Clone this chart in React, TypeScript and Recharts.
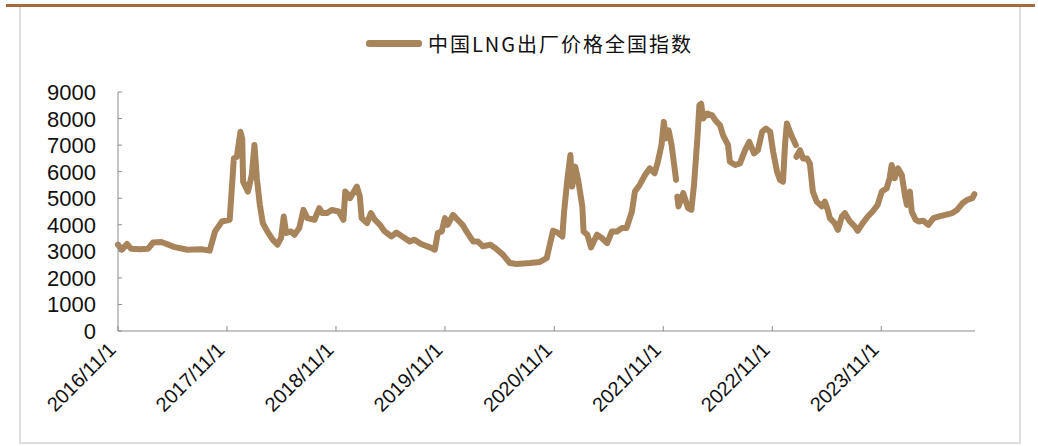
import React from 'react';
import { LineChart, Line, XAxis, YAxis } from 'recharts';

// 中国LNG出厂价格全国指数 (元/吨), values
const dates = [
  '2016/11/01', '2016/11/14', '2016/12/01', '2016/12/15', '2017/01/13', '2017/02/10', '2017/02/26', '2017/03/26',
  '2017/05/10', '2017/06/22', '2017/08/08', '2017/09/04', '2017/09/22', '2017/10/15', '2017/11/10', '2017/11/24',
  '2017/12/04', '2017/12/16', '2017/12/22', '2017/12/25', '2018/01/10', '2018/01/23', '2018/02/01', '2018/02/09',
  '2018/02/19', '2018/03/01', '2018/03/16', '2018/04/03', '2018/04/19', '2018/05/01', '2018/05/10', '2018/05/18',
  '2018/06/03', '2018/06/15', '2018/07/01', '2018/07/15', '2018/07/28', '2018/08/21', '2018/09/06', '2018/09/16',
  '2018/10/02', '2018/10/18', '2018/11/10', '2018/11/26', '2018/12/02', '2018/12/12', '2018/12/18', '2019/01/10',
  '2019/01/20', '2019/01/26', '2019/02/13', '2019/02/26', '2019/03/11', '2019/03/28', '2019/04/13', '2019/05/06',
  '2019/05/22', '2019/06/11', '2019/07/06', '2019/07/22', '2019/08/13', '2019/09/12', '2019/09/28', '2019/10/08',
  '2019/10/21', '2019/11/01', '2019/11/10', '2019/11/28', '2019/12/13', '2019/12/30', '2020/01/12', '2020/02/03',
  '2020/02/19', '2020/03/07', '2020/04/01', '2020/04/17', '2020/05/13', '2020/06/05', '2020/06/28', '2020/08/12',
  '2020/09/14', '2020/10/07', '2020/10/17', '2020/10/28', '2020/11/13', '2020/11/28', '2020/12/04', '2020/12/14',
  '2020/12/25', '2020/12/31', '2021/01/10', '2021/01/20', '2021/02/03', '2021/02/07', '2021/02/20', '2021/03/04',
  '2021/03/24', '2021/04/09', '2021/04/27', '2021/05/13', '2021/05/30', '2021/06/15', '2021/07/01', '2021/07/19',
  '2021/07/29', '2021/08/14', '2021/09/01', '2021/09/17', '2021/10/03', '2021/10/14', '2021/10/26', '2021/11/03',
  '2021/11/09', '2021/11/19', '2021/11/29', '2021/12/14', '2021/12/16', '2021/12/18', '2021/12/22', '2022/01/07',
  '2022/01/23', '2022/02/03', '2022/02/12', '2022/02/24', '2022/03/02', '2022/03/08', '2022/03/14', '2022/03/28',
  '2022/04/14', '2022/04/24', '2022/05/10', '2022/05/20', '2022/06/06', '2022/06/12', '2022/06/30', '2022/07/16',
  '2022/08/02', '2022/08/16', '2022/09/01', '2022/09/14', '2022/09/28', '2022/10/11', '2022/10/25', '2022/11/04',
  '2022/11/17', '2022/11/27', '2022/12/07', '2022/12/14', '2022/12/20', '2022/12/30', '2023/01/09', '2023/01/19',
  '2023/01/20', '2023/01/21', '2023/02/02', '2023/02/12', '2023/02/25', '2023/03/07', '2023/03/17', '2023/03/30',
  '2023/04/16', '2023/04/26', '2023/05/06', '2023/05/13', '2023/05/29', '2023/06/09', '2023/06/22', '2023/07/02',
  '2023/07/19', '2023/08/04', '2023/08/14', '2023/08/31', '2023/09/17', '2023/10/03', '2023/10/20', '2023/11/03',
  '2023/11/19', '2023/11/29', '2023/12/06', '2023/12/16', '2023/12/27', '2024/01/09', '2024/01/19', '2024/01/26',
  '2024/02/05', '2024/02/11', '2024/02/24', '2024/03/05', '2024/03/21', '2024/04/07', '2024/04/24', '2024/05/10',
  '2024/06/03', '2024/06/26', '2024/07/12', '2024/07/30', '2024/08/15', '2024/09/01', '2024/09/08',
];

const lngIndex: (number | null)[] = [
  3250, 3060, 3275, 3100, 3080, 3100, 3330, 3350,
  3160, 3060, 3080, 3025, 3750, 4125, 4190, 6500,
  6560, 7500, 7250, 5625, 5250, 5875, 7000, 5750,
  4750, 4060, 3750, 3440, 3250, 3500, 4310, 3690,
  3750, 3625, 3875, 4560, 4250, 4190, 4625, 4440,
  4440, 4560, 4500, 4190, 5250, 5125, 5000, 5440,
  5060, 4250, 4060, 4440, 4190, 4000, 3750, 3560,
  3710, 3560, 3375, 3440, 3275, 3150, 3060, 3690,
  3750, 4250, 4000, 4375, 4190, 4000, 3750, 3375,
  3375, 3190, 3250, 3125, 2875, 2560, 2525, 2560,
  2600, 2750, 3250, 3775, 3700, 3560, 4500, 5625,
  6625, 5440, 6190, 5690, 4690, 3750, 3625, 3150,
  3625, 3500, 3310, 3750, 3750, 3875, 3875, 4500,
  5250, 5500, 5875, 6125, 5940, 6375, 7000, 7875,
  7250, 7560, 7000, 5690, null, 5060, 4690, 5190,
  4625, 4560, 5500, 7375, 8500, 8560, 8000, 8190,
  8120, 7940, 7750, 7375, 7000, 6375, 6250, 6310,
  6810, 7125, 6690, 6810, 7500, 7625, 7500, 6750,
  6000, 5690, 5625, 7060, 7810, 7500, 7250, 7000,
  null, 6560, 6810, 6500, 6500, 6310, 5250, 4875,
  4690, 4875, 4560, 4250, 4060, 3810, 4310, 4440,
  4125, 3940, 3775, 4060, 4310, 4500, 4750, 5250,
  5375, 5750, 6250, 5750, 6125, 5875, 5125, 4750,
  5250, 4500, 4190, 4125, 4150, 4000, 4250, 4310,
  4375, 4440, 4560, 4810, 4940, 5000, 5150,
];

const xTickLabels = ['2016/11/1', '2017/11/1', '2018/11/1', '2019/11/1', '2020/11/1', '2021/11/1', '2022/11/1', '2023/11/1'];
const yTicks = [0, 1000, 2000, 3000, 4000, 5000, 6000, 7000, 8000, 9000];
const domainEnd = '2024/09/10';

function toTime(s: string) {
  const [y, m, d] = s.split('/').map(Number);
  return Date.UTC(y, m - 1, d);
}

const data = dates.map((d, i) => ({ t: toTime(d), value: lngIndex[i] }));
const xTicks = xTickLabels.map(toTime);

const AXIS = '#8c8c8c';
const LINE = '#a8845a';
const FONT = "'Liberation Sans', Arial, sans-serif";

function YTick({ x, y, payload }: any) {
  return (
    <g>
      <line x1={x} x2={x + 4} y1={y} y2={y} stroke={AXIS} />
      <text x={x - 22} y={y} dy={8} textAnchor="end" fontSize={22} fill="#111" fontFamily={FONT}>
        {payload.value}
      </text>
    </g>
  );
}

function XTick({ x, y, index }: any) {
  const tx = x - 1;
  const ty = y + 20;
  return (
    <g>
      <line x1={x} x2={x} y1={y} y2={y - 5} stroke={AXIS} />
      <text
        x={tx}
        y={ty}
        textAnchor="end"
        fontSize={20}
        fill="#111"
        fontFamily={FONT}
        transform={`rotate(-45 ${tx} ${ty})`}
      >
        {xTickLabels[index] ?? ''}
      </text>
    </g>
  );
}

export default function App() {
  return (
    <div style={{ position: 'absolute', left: 0, top: 0, width: 1038, height: 446, background: '#fff' }}>
      <div style={{ position: 'absolute', left: 6, top: 4, width: 1029, height: 3, background: '#a56b3f' }} />
      <div
        style={{
          position: 'absolute',
          left: 19,
          top: 7,
          width: 998,
          height: 435,
          borderLeft: '2px solid #ddd',
          borderRight: '2px solid #ddd',
          borderBottom: '2px solid #ddd',
        }}
      />
      <div
        style={{
          position: 'absolute',
          left: 366,
          top: 29,
          display: 'flex',
          alignItems: 'center',
          fontFamily: "'Noto Sans CJK SC', sans-serif",
          fontSize: 20,
          color: '#111',
          letterSpacing: 2,
        }}
      >
        <span style={{ display: 'inline-block', width: 56, height: 7, borderRadius: 3, background: LINE, marginRight: 6 }} />
        <span>中国LNG出厂价格全国指数</span>
      </div>
      <div style={{ position: 'absolute', left: 0, top: 0 }}>
        <LineChart width={1038} height={446} data={data} margin={{ top: 92, right: 63, left: 48, bottom: 0 }}>
          <XAxis
            dataKey="t"
            type="number"
            domain={[toTime(dates[0]), toTime(domainEnd)]}
            ticks={xTicks}
            interval={0}
            height={115}
            tickSize={0}
            tickMargin={0}
            tickLine={false}
            axisLine={{ stroke: AXIS }}
            tick={<XTick />}
          />
          <YAxis
            type="number"
            domain={[0, 9000]}
            ticks={yTicks}
            interval={0}
            width={70}
            tickSize={0}
            tickMargin={0}
            tickLine={false}
            axisLine={{ stroke: AXIS }}
            tick={<YTick />}
          />
          <Line
            dataKey="value"
            type="linear"
            stroke={LINE}
            strokeWidth={6}
            strokeLinejoin="round"
            strokeLinecap="round"
            dot={false}
            activeDot={false}
            connectNulls={false}
            isAnimationActive={false}
          />
        </LineChart>
      </div>
    </div>
  );
}
